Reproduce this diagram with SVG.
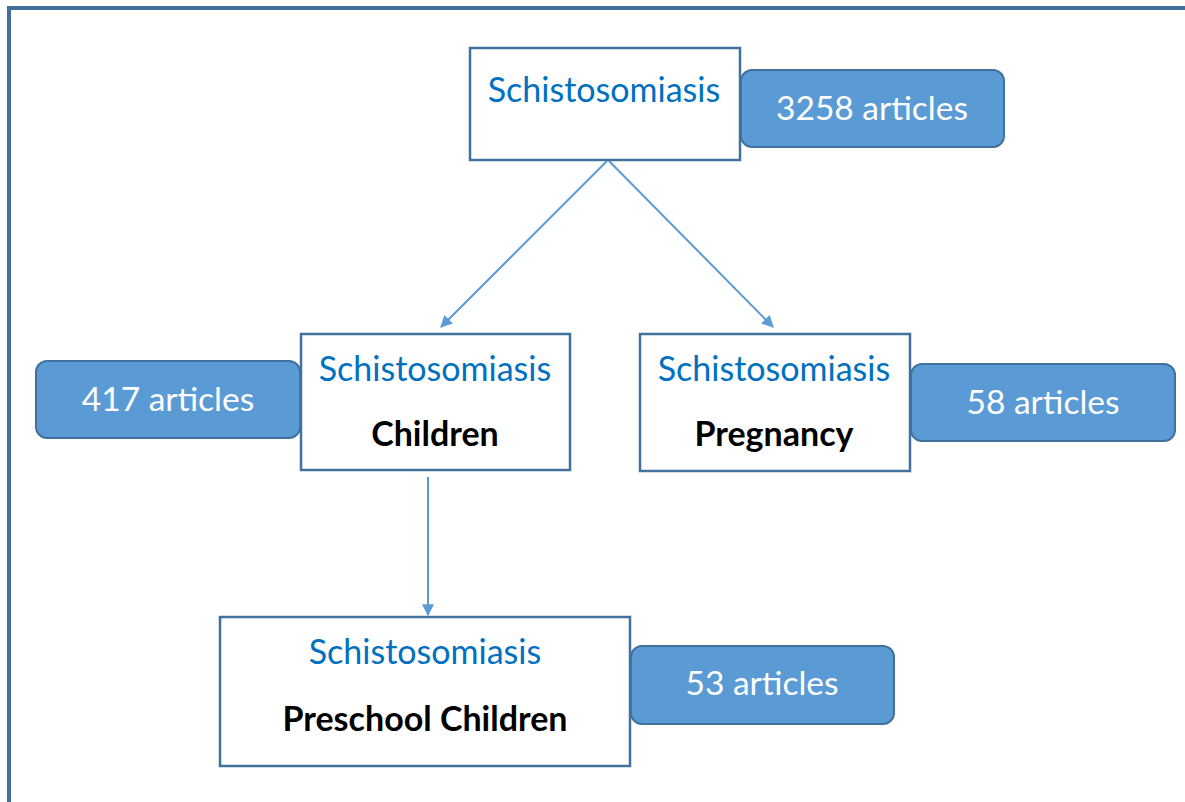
<svg xmlns="http://www.w3.org/2000/svg" width="1185" height="802" viewBox="0 0 1185 802">
<style>
.box{fill:#fff;stroke:#41719C;stroke-width:2.5}
.badge{fill:#5B9BD5;stroke:#41719C;stroke-width:2}
.t1{font-family:Lato,"Liberation Sans",sans-serif;font-size:34px;fill:#0070C0;text-anchor:middle}
.t2{font-family:Lato,"Liberation Sans",sans-serif;font-size:34px;font-weight:bold;fill:#000;text-anchor:middle}
.tb{font-family:Lato,"Liberation Sans",sans-serif;font-size:33.5px;fill:#fff;text-anchor:middle}
.con{stroke:#5B9BD5;stroke-width:2;fill:none;marker-end:url(#ah)}
</style>
<defs>
<marker id="ah" viewBox="0 0 10 10" refX="9" refY="5" markerWidth="13" markerHeight="12" markerUnits="userSpaceOnUse" orient="auto">
<path d="M0,0 L10,5 L0,10 z" fill="#5B9BD5"/>
</marker>
</defs>
<rect width="1185" height="802" fill="#fff"/>
<path d="M9,810 V8 H1190" fill="none" stroke="#41709C" stroke-width="4"/>
<g id="connectors">
<line class="con" x1="607" y1="161" x2="441" y2="327"/>
<line class="con" x1="609" y1="161" x2="773" y2="327"/>
<line class="con" x1="428" y1="477" x2="428" y2="615"/>
</g>
<g id="n-top">
<rect class="box" x="470" y="48" width="270" height="112"/>
<text class="t1" x="604" y="102">Schistosomiasis</text>
</g>
<g id="b-top">
<rect class="badge" x="741" y="70" width="263" height="77" rx="11"/>
<text class="tb" x="872" y="120">3258 articles</text>
</g>
<g id="n-children">
<rect class="box" x="301" y="334" width="269" height="136"/>
<text class="t1" x="435" y="381">Schistosomiasis</text>
<text class="t2" x="435" y="446">Children</text>
</g>
<g id="b-children">
<rect class="badge" x="36" y="361" width="264" height="77" rx="11"/>
<text class="tb" x="168" y="411">417 articles</text>
</g>
<g id="n-pregnancy">
<rect class="box" x="640" y="334" width="270" height="137"/>
<text class="t1" x="774" y="381">Schistosomiasis</text>
<text class="t2" x="774" y="446">Pregnancy</text>
</g>
<g id="b-pregnancy">
<rect class="badge" x="911" y="364" width="264" height="77" rx="11"/>
<text class="tb" x="1043" y="414">58 articles</text>
</g>
<g id="n-preschool">
<rect class="box" x="220" y="617" width="410" height="149"/>
<text class="t1" x="425" y="664">Schistosomiasis</text>
<text class="t2" x="425" y="731">Preschool Children</text>
</g>
<g id="b-preschool">
<rect class="badge" x="631" y="646" width="263" height="78" rx="11"/>
<text class="tb" x="762" y="695">53 articles</text>
</g>
</svg>
